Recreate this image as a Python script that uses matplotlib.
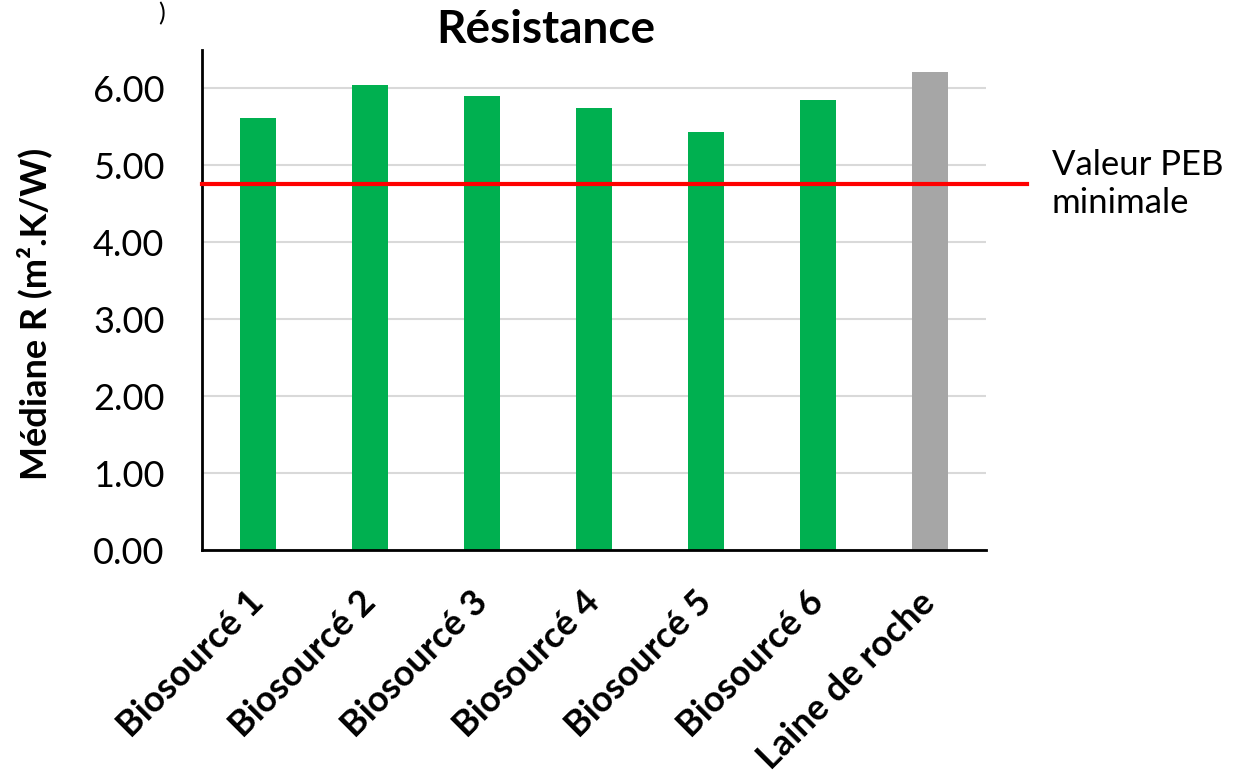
import matplotlib
matplotlib.use('Agg')
import matplotlib.pyplot as plt

# ── data ──────────────────────────────────────
categories = ['Biosourcé 1', 'Biosourcé 2', 'Biosourcé 3', 'Biosourcé 4',
              'Biosourcé 5', 'Biosourcé 6', 'Laine de roche']
valeurs = [5.61, 6.05, 5.90, 5.75, 5.43, 5.85, 6.21]
couleurs = ['#00b050'] * 6 + ['#a6a6a6']
seuil_peb = 4.76
yticks = [0, 1, 2, 3, 4, 5, 6]

plt.rcParams['font.family'] = ['Lato', 'DejaVu Sans']

fig = plt.figure(figsize=(12.45, 7.78), dpi=100)
ax = fig.add_axes([202/1245, 1 - 550/778, 784/1245, 500/778])

x = range(len(categories))
ax.bar(x, valeurs, width=0.32, color=couleurs, zorder=2)
ax.set_xlim(-0.5, len(categories) - 0.5)
ax.set_ylim(0, 6.5)
ax.set_yticks(yticks)
ax.set_yticklabels([f'{v:.2f}' for v in yticks], fontsize=26)
ax.set_xticks(list(x))
ax.set_xticklabels(categories, rotation=45, ha='right', va='center',
                   rotation_mode='anchor', fontsize=26, fontweight='bold')
ax.tick_params(length=0)
ax.tick_params(axis='y', pad=27)
ax.tick_params(axis='x', pad=34)
ax.yaxis.grid(True, color='#d9d9d9', linewidth=1.5, zorder=0)
ax.set_axisbelow(True)
for s in ['top', 'right']:
    ax.spines[s].set_visible(False)
ax.spines['left'].set_linewidth(2)
ax.spines['bottom'].set_linewidth(2)
ax.set_ylabel('Médiane R (m².K/W)', fontsize=26, fontweight='bold')
ax.yaxis.set_label_coords(-150/784, (550 - 314)/500)

# ligne seuil PEB, débordant à droite
ax.plot([-0.5, 6.87], [seuil_peb, seuil_peb], color='#ff0000', linewidth=3,
        clip_on=False, zorder=3)
fig.text(1052/1245, 1 - 184/778, 'Valeur PEB\nminimale', fontsize=25,
         ha='left', va='center', linespacing=1.25)

fig.text(546/1245, 1 - 30/778, 'Résistance', fontsize=33, fontweight='bold',
         ha='center', va='center')
fig.text(158/1245, 1 - 14/778, ')', fontsize=18, ha='left', va='center')

fig.savefig('out.png', dpi=100)
